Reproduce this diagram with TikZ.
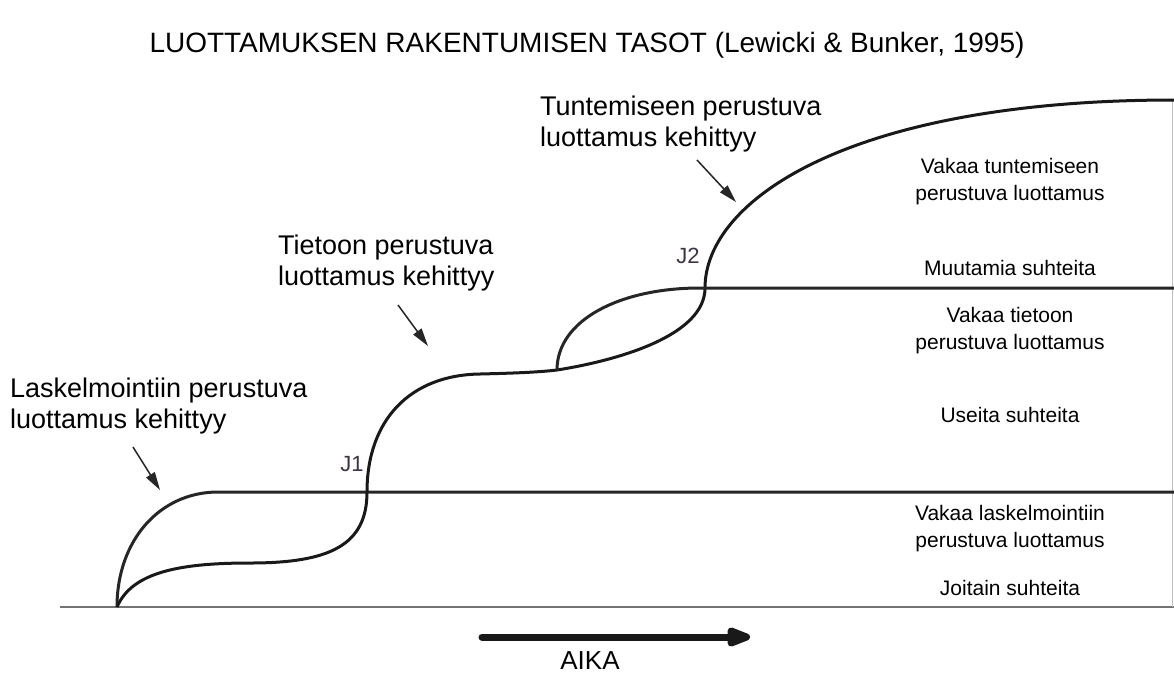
\documentclass[tikz,border=0pt]{standalone}
\usepackage{fontspec}
\setmainfont{Liberation Sans}
\usetikzlibrary{arrows.meta}
\tikzset{
  curve/.style={line width=3pt, black!90},
  level/.style={line width=3pt, black!85},
  axisline/.style={line width=1.5pt, black!55},
  pointer/.style={line width=1.5pt, black!85, -{Triangle[length=18pt,width=10pt]}},
  biglabel/.style={font=\fontsize{27}{31}\selectfont, inner sep=0pt, anchor=north west, align=left},
  zonelabel/.style={font=\fontsize{21}{27}\selectfont, inner sep=0pt, anchor=north, align=center},
  jlabel/.style={font=\fontsize{22}{26}\selectfont, text=jcol, inner sep=0pt},
}
\definecolor{jcol}{HTML}{3E3444}
\begin{document}
\begin{tikzpicture}[x=1pt,y=-1pt]
\useasboundingbox (0,0) rectangle (1174,673);
\fill[white] (0,0) rectangle (1174,673);

% title
\node[font=\fontsize{28}{32}\selectfont, inner sep=0pt, anchor=base] (title) at (587,52) {LUOTTAMUKSEN RAKENTUMISEN TASOT (Lewicki \& Bunker, 1995)};

% coordinates
\coordinate (O) at (117,607);
\coordinate (A0) at (60,607);
\coordinate (A1) at (1174,607);
\coordinate (C1) at (218,492);
\coordinate (L1e) at (1174,492);
\coordinate (J1) at (367,492);
\coordinate (P2) at (557,370);
\coordinate (C2) at (700,288);
\coordinate (L2e) at (1174,288);
\coordinate (J2) at (705,288);
\coordinate (T) at (1174,100);

% baseline axis and faint right border
\draw[axisline] (A0) -- (A1);
\draw[line width=1pt, black!25] (1172.5,100) -- (1172.5,607);

% calculus-based level
\draw[level] (O) .. controls (117,540) and (160,492) .. (C1) -- (L1e);

% main curve
\draw[curve] (O) .. controls (132,572) and (180,563) .. (250,563)
  .. controls (330,563) and (367,545) .. (J1)
  .. controls (367,420) and (410,375) .. (480,374)
  .. controls (520,373) and (540,372) .. (P2)
  .. controls (620,360) and (705,335) .. (J2)
  .. controls (705,200) and (850,100) .. (T);

% knowledge-based lobe and level
\draw[level] (P2) .. controls (557,320) and (620,288) .. (C2) -- (L2e);

% J labels
\node[jlabel] (j1) at (352,464) {J1};
\node[jlabel] (j2) at (688,256) {J2};

% left labels with pointers
\node[biglabel] (lab1) at (10,378) {Laskelmointiin perustuva\\luottamus kehittyy};
\node[biglabel] (lab2) at (278,235) {Tietoon perustuva\\luottamus kehittyy};
\node[biglabel] (lab3) at (540,96) {Tuntemiseen perustuva\\luottamus kehittyy};
\coordinate (p1s) at (133,447); \coordinate (p1e) at (160,490);
\coordinate (p2s) at (398,305); \coordinate (p2e) at (428,346);
\coordinate (p3s) at (697,160); \coordinate (p3e) at (736,202);
\draw[pointer] (p1s) -- (p1e);
\draw[pointer] (p2s) -- (p2e);
\draw[pointer] (p3s) -- (p3e);

% zone labels
\node[zonelabel] (z1) at (1010,158) {Vakaa tuntemiseen\\perustuva luottamus};
\node[zonelabel] (z2) at (1010,260) {Muutamia suhteita};
\node[zonelabel] (z3) at (1010,307) {Vakaa tietoon\\perustuva luottamus};
\node[zonelabel] (z4) at (1010,407) {Useita suhteita};
\node[zonelabel] (z5) at (1010,505) {Vakaa laskelmointiin\\perustuva luottamus};
\node[zonelabel] (z6) at (1010,580) {Joitain suhteita};

% time arrow
\coordinate (t0) at (482,637);
\coordinate (t1) at (750,637);
\draw[line width=7pt, line cap=round, black!90, -{Triangle[length=30pt,width=20pt,round=false]}] (t0) -- (t1);
\node[font=\fontsize{26}{30}\selectfont, inner sep=0pt, anchor=base] (aika) at (590,669) {AIKA};
\end{tikzpicture}
\end{document}
